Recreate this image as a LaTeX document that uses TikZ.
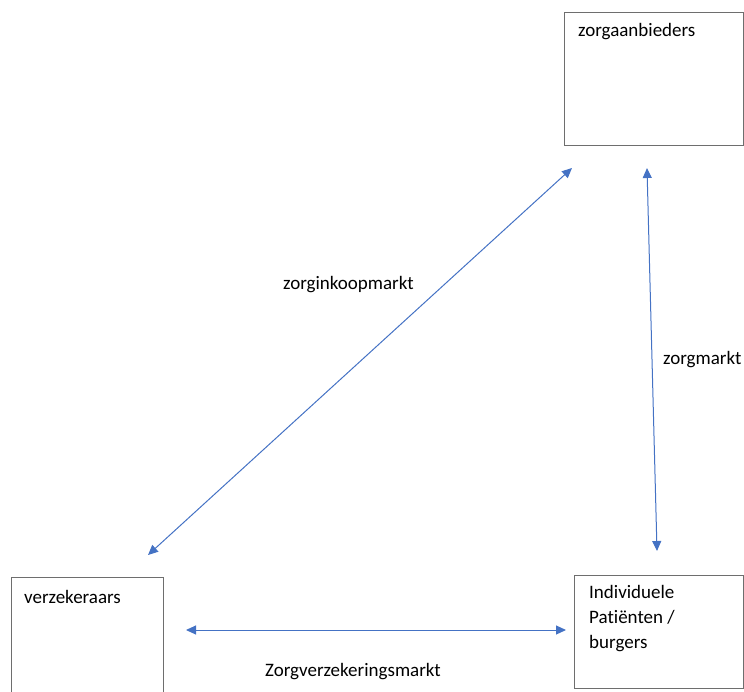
\documentclass[tikz,border=0pt]{standalone}
\usepackage{fontspec}
\setmainfont[Ligatures=NoCommon]{Carlito}
\usetikzlibrary{arrows.meta}
\definecolor{arrblue}{HTML}{4472C4}
\definecolor{boxgray}{HTML}{6E6E6E}
\begin{document}
\begin{tikzpicture}[x=1pt,y=-1pt,
  box/.style={draw=boxgray,line width=1pt},
  lbl/.style={anchor=west,inner sep=0pt,font=\fontsize{19}{25}\selectfont,align=left},
  link/.style={draw=arrblue,line width=1pt,{Triangle[length=10pt,width=9pt]}-{Triangle[length=10pt,width=9pt]}}]
\useasboundingbox (0,0) rectangle (744,691);
\draw[box] (564,12) rectangle (743,145);
\draw[box] (11,577) rectangle (163,700);
\draw[box] (574,575) rectangle (743,688);
\node[lbl] (za) at (578,32) {zorgaanbieders};
\node[lbl] (vz) at (24,597) {verzekeraars};
\node[lbl,anchor=north west] (ip) at (589,585) {Individuele\\Patiënten /\\burgers};
\coordinate (d1) at (148,555);
\coordinate (d2) at (572,168);
\coordinate (v1) at (647,168);
\coordinate (v2) at (657,551);
\coordinate (h1) at (186,630);
\coordinate (h2) at (566,630);
\draw[link] (d1) -- (d2);
\draw[link] (v1) -- (v2);
\draw[link] (h1) -- (h2);
\node[lbl] (l1) at (283,285) {zorginkoopmarkt};
\node[lbl] (l2) at (663,360) {zorgmarkt};
\node[lbl] (l3) at (265,672) {Zorgverzekeringsmarkt};
\end{tikzpicture}
\end{document}
